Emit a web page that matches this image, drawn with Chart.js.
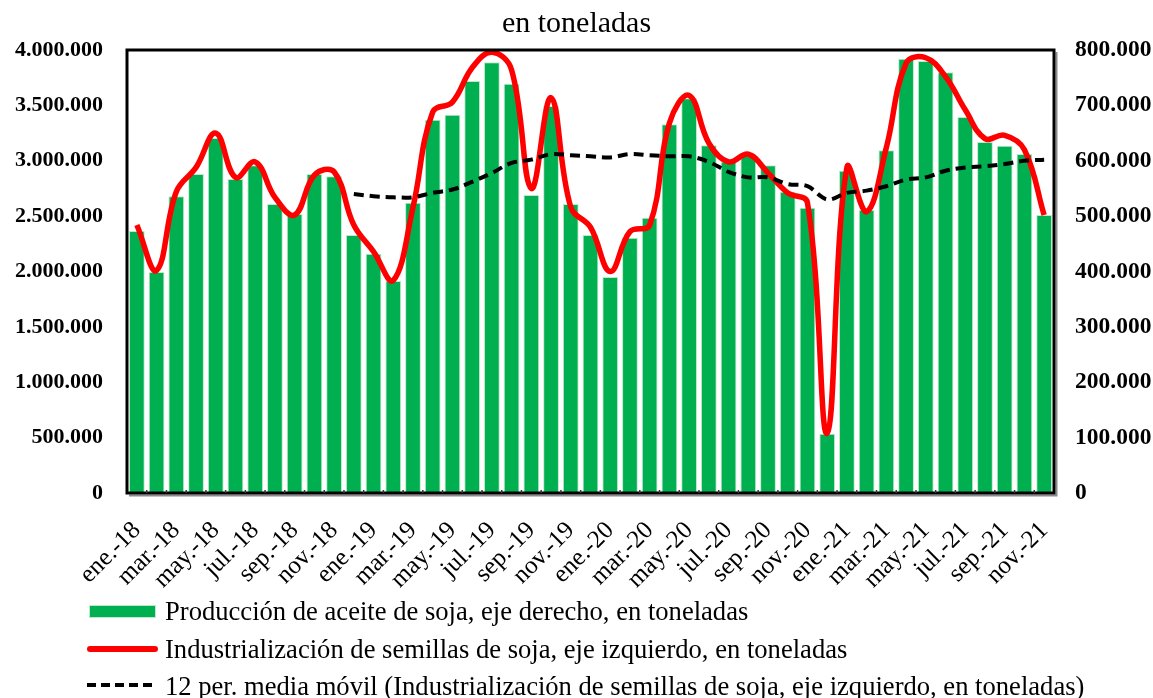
<!DOCTYPE html>
<html>
<head>
<meta charset="utf-8">
<script src="https://cdn.jsdelivr.net/npm/chart.js@4.4.1/dist/chart.umd.min.js"></script>
<style>
html,body{margin:0;padding:0;background:#fff;}
#wrap{position:relative;width:1153px;height:698px;overflow:hidden;}
#c{position:absolute;left:0;top:0;}
.legtxt{position:absolute;left:165px;height:38px;line-height:38px;font-family:"Liberation Serif","Times New Roman",serif;font-size:26.6px;color:#000;white-space:nowrap;}
.sw{position:absolute;}
</style>
</head>
<body>
<div id="wrap">
<canvas id="c" width="1153" height="698"></canvas>
<div id="legend"></div>
</div>
<script>
// ---- data ----
const categories = [
 'ene.-18','feb.-18','mar.-18','abr.-18','may.-18','jun.-18','jul.-18','ago.-18','sep.-18','oct.-18','nov.-18','dic.-18',
 'ene.-19','feb.-19','mar.-19','abr.-19','may.-19','jun.-19','jul.-19','ago.-19','sep.-19','oct.-19','nov.-19','dic.-19',
 'ene.-20','feb.-20','mar.-20','abr.-20','may.-20','jun.-20','jul.-20','ago.-20','sep.-20','oct.-20','nov.-20','dic.-20',
 'ene.-21','feb.-21','mar.-21','abr.-21','may.-21','jun.-21','jul.-21','ago.-21','sep.-21','oct.-21','nov.-21'
];
// Producción de aceite de soja (eje derecho), toneladas
const oilProduction = [
 473000,399000,536000,576000,641000,567000,592000,522000,504000,576000,572000,466000,
 432000,383000,524000,674000,683000,744000,778000,739000,538000,699000,522000,466000,
 390000,461000,497000,666000,713000,628000,598000,612000,592000,544000,515000,107000,
 582000,511000,619000,784000,780000,760000,679000,634000,627000,612000,502000
];
// Industrialización de semillas de soja (eje izquierdo), toneladas
const seedCrushing = [
 2420000,2010000,2720000,2940000,3250000,2850000,2990000,2670000,2510000,2870000,2900000,2420000,
 2180000,1920000,2580000,3440000,3530000,3840000,3980000,3820000,2750000,3570000,2580000,2400000,
 2000000,2360000,2420000,3340000,3590000,3160000,2990000,3060000,2890000,2710000,2620000,540000,
 2940000,2540000,3120000,3880000,3930000,3760000,3460000,3200000,3230000,3100000,2510000
];
// 12 per. media móvil
const movingAvg12 = [
 null,null,null,null,null,null,null,null,null,null,null,2700000,
 2680000,2670000,2670000,2710000,2740000,2810000,2890000,2980000,3010000,3060000,3050000,3040000,
 3030000,3060000,3050000,3040000,3040000,2990000,2900000,2850000,2850000,2790000,2770000,2650000,
 2710000,2730000,2770000,2830000,2850000,2910000,2940000,2950000,2970000,3000000,3010000
];
const leftTickValues = [0,500000,1000000,1500000,2000000,2500000,3000000,3500000,4000000];
const rightTickValues = [0,100000,200000,300000,400000,500000,600000,700000,800000];
const seriesLabels = [
 'Producción de aceite de soja, eje derecho, en toneladas',
 'Industrialización de semillas de soja, eje izquierdo, en toneladas',
 '12 per. media móvil (Industrialización de semillas de soja, eje izquierdo, en toneladas)'
];
const titleText = 'en toneladas';

// ---- helpers ----
const fmt = v => String(v).replace(/\B(?=(\d{3})+(?!\d))/g, '.');
const SERIF = '"Liberation Serif","Times New Roman",serif';

const framePlugin = {
  id: 'frame',
  afterDatasetsDraw(chart) {
    const {ctx, chartArea: a} = chart;
    ctx.save();
    ctx.strokeStyle = '#8a8a8a';
    ctx.lineWidth = 2;
    ctx.beginPath();
    ctx.moveTo(a.left + 2, a.bottom + 2.5);
    ctx.lineTo(a.right + 2.5, a.bottom + 2.5);
    ctx.lineTo(a.right + 2.5, a.top + 2);
    ctx.stroke();
    ctx.strokeStyle = '#000';
    ctx.lineWidth = 3;
    ctx.strokeRect(a.left, a.top, a.right - a.left, a.bottom - a.top);
    // small category tick marks along the bottom edge
    const xs = chart.scales.x;
    ctx.lineWidth = 1.5;
    ctx.strokeStyle = '#333';
    ctx.beginPath();
    for (let i = 1; i < categories.length; i++) {
      const px = (xs.getPixelForTick(i - 1) + xs.getPixelForTick(i)) / 2;
      ctx.moveTo(px, a.bottom - 3);
      ctx.lineTo(px, a.bottom);
    }
    ctx.stroke();
    ctx.restore();
  }
};

new Chart(document.getElementById('c'), {
  type: 'bar',
  data: {
    labels: categories,
    datasets: [
      {
        type: 'bar',
        label: seriesLabels[0],
        data: oilProduction,
        yAxisID: 'y1',
        backgroundColor: '#00B050',
        borderColor: '#bfe9cb',
        borderWidth: 1,
        barPercentage: 0.8,
        categoryPercentage: 1.0,
        order: 3
      },
      {
        type: 'line',
        label: seriesLabels[1],
        data: seedCrushing,
        yAxisID: 'y',
        borderColor: '#FF0000',
        borderWidth: 5.5,
        pointRadius: 0,
        tension: 0.4,
        fill: false,
        clip: 10,
        order: 2
      },
      {
        type: 'line',
        label: seriesLabels[2],
        data: movingAvg12,
        yAxisID: 'y',
        borderColor: '#000000',
        borderWidth: 4,
        borderDash: [10, 6],
        pointRadius: 0,
        tension: 0.35,
        fill: false,
        spanGaps: false,
        order: 1
      }
    ]
  },
  options: {
    responsive: false,
    animation: false,
    devicePixelRatio: 1,
    layout: {padding: 0},
    plugins: {
      legend: {display: false},
      tooltip: {enabled: false},
      title: {
        display: true,
        text: titleText,
        color: '#000',
        font: {family: SERIF, size: 30, weight: 'normal', lineHeight: 1.2},
        padding: {top: 6, bottom: 8}
      }
    },
    scales: {
      x: {
        offset: true,
        grid: {display: false},
        border: {display: false},
        ticks: {
          autoSkip: false,
          maxRotation: 45,
          minRotation: 45,
          padding: 15,
          color: '#000',
          font: {family: SERIF, size: 25},
          callback: (v, i) => (i % 2 === 0 ? categories[i] : '')
        },
        afterFit: s => { s.height = 205; }
      },
      y: {
        position: 'left',
        min: 0, max: 4000000,
        grid: {display: false},
        border: {display: false},
        afterBuildTicks: s => { s.ticks = leftTickValues.map(v => ({value: v})); },
        ticks: {
          padding: 16,
          color: '#000',
          font: {family: SERIF, size: 22, weight: 'bold'},
          callback: v => fmt(v)
        },
        afterFit: s => { s.width = 127; }
      },
      y1: {
        position: 'right',
        min: 0, max: 800000,
        grid: {display: false},
        border: {display: false},
        afterBuildTicks: s => { s.ticks = rightTickValues.map(v => ({value: v})); },
        ticks: {
          padding: 13,
          color: '#000',
          font: {family: SERIF, size: 23.5, weight: 'bold'},
          callback: v => fmt(v)
        },
        afterFit: s => { s.width = 99; }
      }
    }
  },
  plugins: [framePlugin]
});

// ---- HTML legend built from the series labels ----
const legend = document.getElementById('legend');
const rowTops = [592, 630, 667];
const swatches = [
  'left:89px;top:605px;width:67px;height:13px;background:#00B050;box-shadow:inset 0 0 0 1px #bfe9cb;',
  'left:87px;top:646px;width:71px;height:6px;background:#FF0000;border-radius:3px;',
  'left:87px;top:683px;width:70px;height:4px;background:repeating-linear-gradient(90deg,#000 0 9px,transparent 9px 14px);'
];
seriesLabels.forEach((t, i) => {
  const sw = document.createElement('div');
  sw.className = 'sw';
  sw.style.cssText = swatches[i];
  legend.appendChild(sw);
  const d = document.createElement('div');
  d.className = 'legtxt';
  d.style.top = rowTops[i] + 'px';
  d.textContent = t;
  legend.appendChild(d);
});
</script>
</body>
</html>
